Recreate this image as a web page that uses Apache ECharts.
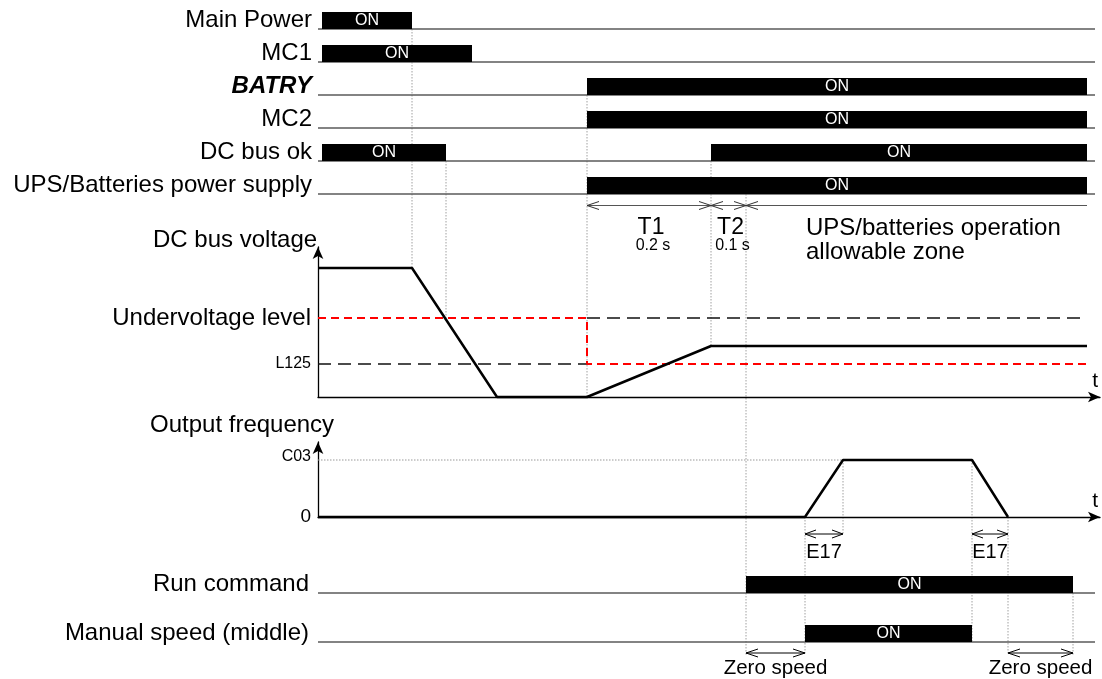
<!DOCTYPE html>
<html><head><meta charset="utf-8">
<script src="https://cdn.jsdelivr.net/npm/echarts@6/dist/echarts.min.js"></script>
<style>html,body{margin:0;padding:0;background:#fff}#c{width:1102px;height:679px}</style>
</head><body><div id="c"></div>
<script>
const FONT = '"Liberation Sans", Arial, Helvetica, sans-serif';
const T_MAX = 782;     // time axis length (arbitrary units)
const LINE_END = 777;  // signal base lines end

// ---- digital signals (upper block) ----
const signalNames = ['Main Power', 'MC1', 'BATRY', 'MC2', 'DC bus ok', 'UPS/Batteries power supply'];
const signalOn = [
  [[4, 94]],
  [[4, 154]],
  [[269, 769]],
  [[269, 769]],
  [[4, 128], [393, 769]],
  [[269, 769]]
];
// ---- digital signals (lower block) ----
const cmdNames = ['Run command', 'Manual speed (middle)'];
const cmdOn = [
  [[428, 755]],
  [[487, 654]]
];

// ---- DC bus voltage ----
const voltTime  = [0, 94, 179, 269, 393, 769];
const voltLevel = [129, 129, 0, 0, 51, 51];
const uvTime  = [0, 269, 269, 769];     // active undervoltage threshold (red)
const uvLevel = [79, 79, 33, 33];
const refHighTime = [269, 769];         // undervoltage level reference (black, after switch)
const refLowTime  = [0, 269];           // L125 reference (black, before switch)
const UV_LEVEL = 79, L125_LEVEL = 33;
const voltTicks = [79, 33];
const voltTickLabels = ['Undervoltage level', 'L125'];

// ---- output frequency ----
const freqTime  = [0, 487, 525, 654, 690];
const freqLevel = [0, 0, 57, 57, 0];
const C03_LEVEL = 57;
const freqTicks = [0, 57];
const freqTickLabels = ['0', 'C03'];

// ---- annotations ----
const tSpans = [[269, 393, 'T1', '0.2 s'], [393, 428, 'T2', '0.1 s']];
const zoneSpan = [428, 769];
const zoneText = ['UPS/batteries operation', 'allowable zone'];
const e17Spans = [[487, 525], [654, 690]];
const e17Label = 'E17';
const zeroSpans = [[428, 487], [690, 755]];
const zeroLabel = 'Zero speed';

// guide (dotted) lines: time, from, to
const guides = [
  [94,  ['sig', 0], ['volt', 129]],
  [128, ['sig', 4], ['volt', 79]],
  [269, ['sig', 2], ['volt', 0]],
  [393, ['sig', 4], ['volt', 51]],
  [428, ['sig', 5], ['zero', 1]],
  [487, ['freq', 0], ['zero', 1]],
  [525, ['freq', 57], ['e17', 0]],
  [654, ['freq', 57], ['cmd', 1]],
  [690, ['freq', 0], ['zero', 1]],
  [755, ['cmd', 0], ['zero', 1]]
];

// layout (pixels)
const BASE_OFF = 8.5, BAR_H = 17, T_ARROW_OFF = 11.5, E17_OFF = 17, ZERO_OFF = 11;
const BIG = 24;

const zip = (a, b) => a.map((v, i) => [v, b[i]]);

function head(x, y, dir, len, half, color) {
  // dir -1: tip pointing left ; +1: tip pointing right
  return { type: 'polyline', shape: { points: [[x - dir * len, y - half], [x, y], [x - dir * len, y + half]] },
    style: { stroke: color || '#000', fill: null, lineWidth: 1 } };
}
function txt(text, x, y, size, align, color, va) {
  return { type: 'text', style: { text: text, x: x, y: y, fill: color || '#000', fontSize: size, fontFamily: FONT,
    align: align || 'center', verticalAlign: va || 'middle' } };
}

function signalRenderer(intervals) {
  return function (params, api) {
    const row = api.value(1);
    const c = api.coord([0, row]);
    const base = c[1] + BASE_OFF;
    const xEnd = api.coord([LINE_END, row])[0];
    const children = [{ type: 'line', shape: { x1: c[0], y1: base, x2: xEnd, y2: base },
      style: { stroke: '#5a5a5a', lineWidth: 1.6 } }];
    intervals[row].forEach(function (iv) {
      const x1 = api.coord([iv[0], row])[0], x2 = api.coord([iv[1], row])[0];
      children.push({ type: 'rect', shape: { x: x1, y: base - BAR_H, width: x2 - x1, height: BAR_H }, style: { fill: '#000' } });
      children.push(txt('ON', (x1 + x2) / 2, base - BAR_H / 2 + 0.5, 16, 'center', '#fff'));
    });
    return { type: 'group', children: children };
  };
}

const axisArrowLine = { show: true, symbol: ['none', 'arrow'], symbolSize: [8, 12], lineStyle: { color: '#000', width: 1.3 } };
const tName = { fontSize: 21, fontFamily: FONT, color: '#000', align: 'right', verticalAlign: 'bottom', padding: [0, 0, 5, 0] };

const option = {
  animation: false,
  backgroundColor: '#fff',
  grid: [
    { left: 318, right: 2, top: 4, height: 198 },
    { left: 318, right: 2, top: 247, height: 150 },
    { left: 318, right: 2, top: 442, height: 75 },
    { left: 318, right: 2, top: 560, height: 98 }
  ],
  xAxis: [
    { gridIndex: 0, type: 'value', min: 0, max: T_MAX, show: false },
    { gridIndex: 1, type: 'value', min: 0, max: T_MAX, axisLine: axisArrowLine, axisTick: { show: false },
      axisLabel: { show: false }, splitLine: { show: false }, name: 't', nameLocation: 'end', nameGap: -2, nameTextStyle: tName },
    { gridIndex: 2, type: 'value', min: 0, max: T_MAX, axisLine: axisArrowLine, axisTick: { show: false },
      axisLabel: { show: false }, splitLine: { show: false }, name: 't', nameLocation: 'end', nameGap: -2, nameTextStyle: tName },
    { gridIndex: 3, type: 'value', min: 0, max: T_MAX, show: false }
  ],
  yAxis: [
    { gridIndex: 0, type: 'category', data: signalNames, inverse: true,
      axisLine: { show: false }, axisTick: { show: false }, splitLine: { show: false },
      axisLabel: { margin: 6, fontSize: BIG, fontFamily: FONT, color: '#000',
        formatter: function (v) { return v === 'BATRY' ? '{b|BATRY}' : v; },
        rich: { b: { fontSize: BIG, fontFamily: FONT, color: '#000', fontWeight: 'bold', fontStyle: 'italic' } } } },
    { gridIndex: 1, type: 'value', min: 0, max: 150, axisLine: axisArrowLine, axisTick: { show: false }, splitLine: { show: false },
      axisLabel: { customValues: voltTicks, margin: 7, fontFamily: FONT, color: '#000',
        formatter: function (v) { const i = voltTicks.indexOf(v); return i === 0 ? '{a|' + voltTickLabels[0] + '}' : '{s|' + voltTickLabels[i] + '}'; },
        rich: { a: { fontSize: BIG, fontFamily: FONT, color: '#000' }, s: { fontSize: 16, fontFamily: FONT, color: '#000' } } } },
    { gridIndex: 2, type: 'value', min: 0, max: 75, axisLine: axisArrowLine, axisTick: { show: false }, splitLine: { show: false },
      axisLabel: { customValues: freqTicks, margin: 7, fontFamily: FONT, color: '#000',
        formatter: function (v) { const i = freqTicks.indexOf(v); return i === 0 ? '{z|' + freqTickLabels[0] + '}' : '{s|' + freqTickLabels[i] + '}'; },
        rich: { z: { fontSize: 19, fontFamily: FONT, color: '#000' }, s: { fontSize: 16, fontFamily: FONT, color: '#000', padding: [0, 0, 6, 0] } } } },
    { gridIndex: 3, type: 'category', data: cmdNames, inverse: true,
      axisLine: { show: false }, axisTick: { show: false }, splitLine: { show: false },
      axisLabel: { margin: 9, fontSize: BIG, fontFamily: FONT, color: '#000' } }
  ],
  series: [
    { type: 'custom', xAxisIndex: 0, yAxisIndex: 0, clip: false, renderItem: signalRenderer(signalOn),
      data: signalNames.map(function (n, i) { return [0, i]; }), z: 3 },
    { type: 'custom', xAxisIndex: 3, yAxisIndex: 3, clip: false, renderItem: signalRenderer(cmdOn),
      data: cmdNames.map(function (n, i) { return [0, i]; }), z: 3 },
    // T1/T2 dimension line
    { type: 'custom', xAxisIndex: 0, yAxisIndex: 0, clip: false, data: [[0, 5]], z: 3,
      renderItem: function (params, api) {
        const row = api.value(1);
        const y = api.coord([0, row])[1] + BASE_OFF + T_ARROW_OFF;
        const X = function (t) { return api.coord([t, row])[0]; };
        const ch = [{ type: 'line', shape: { x1: X(tSpans[0][0]), y1: y, x2: X(zoneSpan[1]), y2: y }, style: { stroke: '#555', lineWidth: 1 } }];
        ch.push(head(X(tSpans[0][0]), y, -1, 12, 4, '#333'));
        tSpans.forEach(function (s) {
          ch.push(head(X(s[1]), y, 1, 12, 4, '#333'));
          ch.push(head(X(s[1]), y, -1, 12, 4, '#333'));
          const cx = (X(s[0]) + X(s[1])) / 2 + 2;
          ch.push(txt(s[2], cx, y + 22, 23));
          ch.push(txt(s[3], cx + 2, y + 40, 16));
        });
        const zx = X(zoneSpan[0]) + 60;
        ch.push(txt(zoneText[0], zx, y + 23, BIG, 'left'));
        ch.push(txt(zoneText[1], zx, y + 47, BIG, 'left'));
        return { type: 'group', children: ch };
      } },
    // DC bus voltage
    { type: 'line', xAxisIndex: 1, yAxisIndex: 1, data: zip(refLowTime, [L125_LEVEL, L125_LEVEL]), showSymbol: false, symbol: 'none', clip: false,
      lineStyle: { color: '#111', width: 1.3, type: [13, 7] }, z: 2 },
    { type: 'line', xAxisIndex: 1, yAxisIndex: 1, data: zip(refHighTime, [UV_LEVEL, UV_LEVEL]), showSymbol: false, symbol: 'none', clip: false,
      lineStyle: { color: '#111', width: 1.3, type: [13, 7] }, z: 2 },
    { type: 'line', xAxisIndex: 1, yAxisIndex: 1, data: zip(uvTime, uvLevel), showSymbol: false, symbol: 'none', clip: false,
      lineStyle: { color: '#ff0000', width: 2, type: [8, 5] }, z: 3 },
    { type: 'line', xAxisIndex: 1, yAxisIndex: 1, data: zip(voltTime, voltLevel), showSymbol: false, symbol: 'none', clip: false,
      lineStyle: { color: '#000', width: 2.5 }, z: 4 },
    // output frequency
    { type: 'line', xAxisIndex: 2, yAxisIndex: 2, data: zip([0, freqTime[2]], [C03_LEVEL, C03_LEVEL]), showSymbol: false, symbol: 'none', clip: false,
      lineStyle: { color: '#999', width: 1, type: [1.5, 1.5] }, z: 2 },
    { type: 'line', xAxisIndex: 2, yAxisIndex: 2, data: zip(freqTime, freqLevel), showSymbol: false, symbol: 'none', clip: false,
      lineStyle: { color: '#000', width: 2.5 }, z: 4 },
    // E17 dimension lines
    { type: 'custom', xAxisIndex: 2, yAxisIndex: 2, clip: false, data: [[0, 0]], z: 3,
      renderItem: function (params, api) {
        const y = api.coord([0, 0])[1] + E17_OFF;
        const ch = [];
        e17Spans.forEach(function (s) {
          const a = api.coord([s[0], 0])[0], b = api.coord([s[1], 0])[0];
          ch.push({ type: 'line', shape: { x1: a, y1: y, x2: b, y2: y }, style: { stroke: '#000', lineWidth: 1 } });
          ch.push(head(a, y, -1, 11, 4));
          ch.push(head(b, y, 1, 11, 4));
          ch.push(txt(e17Label, (a + b) / 2, y + 18, 20));
        });
        return { type: 'group', children: ch };
      } },
    // Zero speed dimension lines
    { type: 'custom', xAxisIndex: 3, yAxisIndex: 3, clip: false, data: [[0, 1]], z: 3,
      renderItem: function (params, api) {
        const y = api.coord([0, 1])[1] + BASE_OFF + ZERO_OFF;
        const ch = [];
        zeroSpans.forEach(function (s) {
          const a = api.coord([s[0], 1])[0], b = api.coord([s[1], 1])[0];
          ch.push({ type: 'line', shape: { x1: a, y1: y, x2: b, y2: y }, style: { stroke: '#000', lineWidth: 1 } });
          ch.push(head(a, y, -1, 12, 4));
          ch.push(head(b, y, 1, 12, 4));
          ch.push(txt(zeroLabel, (a + b) / 2, y + 15, 20.5));
        });
        return { type: 'group', children: ch };
      } }
  ]
};

const chart = echarts.init(document.getElementById('c'));
chart.setOption(option);

// second pass: dotted guide lines and panel titles positioned via the axes
function yOf(ref) {
  const kind = ref[0], v = ref[1];
  if (kind === 'sig') return chart.convertToPixel({ gridIndex: 0 }, [0, v])[1] + BASE_OFF;
  if (kind === 'volt') return chart.convertToPixel({ gridIndex: 1 }, [0, v])[1];
  if (kind === 'freq') return chart.convertToPixel({ gridIndex: 2 }, [0, v])[1];
  if (kind === 'e17') return chart.convertToPixel({ gridIndex: 2 }, [0, 0])[1] + E17_OFF;
  if (kind === 'cmd') return chart.convertToPixel({ gridIndex: 3 }, [0, v])[1] + BASE_OFF;
  if (kind === 'zero') return chart.convertToPixel({ gridIndex: 3 }, [0, v])[1] + BASE_OFF + ZERO_OFF + 2;
  return 0;
}
const graphics = guides.map(function (g) {
  const x = chart.convertToPixel({ gridIndex: 0 }, [g[0], 0])[0];
  return { type: 'line', silent: true, z: 0, shape: { x1: x, y1: yOf(g[1]), x2: x, y2: yOf(g[2]) },
    style: { stroke: '#a0a0a0', lineWidth: 1, lineDash: [1.5, 1.5] } };
});
const vTop = chart.convertToPixel({ gridIndex: 1 }, [0, 150]);
const fTop = chart.convertToPixel({ gridIndex: 2 }, [0, 75]);
graphics.push({ type: 'text', silent: true, z: 5, style: { text: 'DC bus voltage', x: vTop[0] - 165, y: vTop[1] - 7,
  fill: '#000', font: BIG + 'px ' + FONT, verticalAlign: 'middle', align: 'left' } });
graphics.push({ type: 'text', silent: true, z: 5, style: { text: 'Output frequency', x: fTop[0] - 168, y: fTop[1] - 17,
  fill: '#000', font: BIG + 'px ' + FONT, verticalAlign: 'middle', align: 'left' } });
chart.setOption({ graphic: graphics });
</script>
</body></html>
